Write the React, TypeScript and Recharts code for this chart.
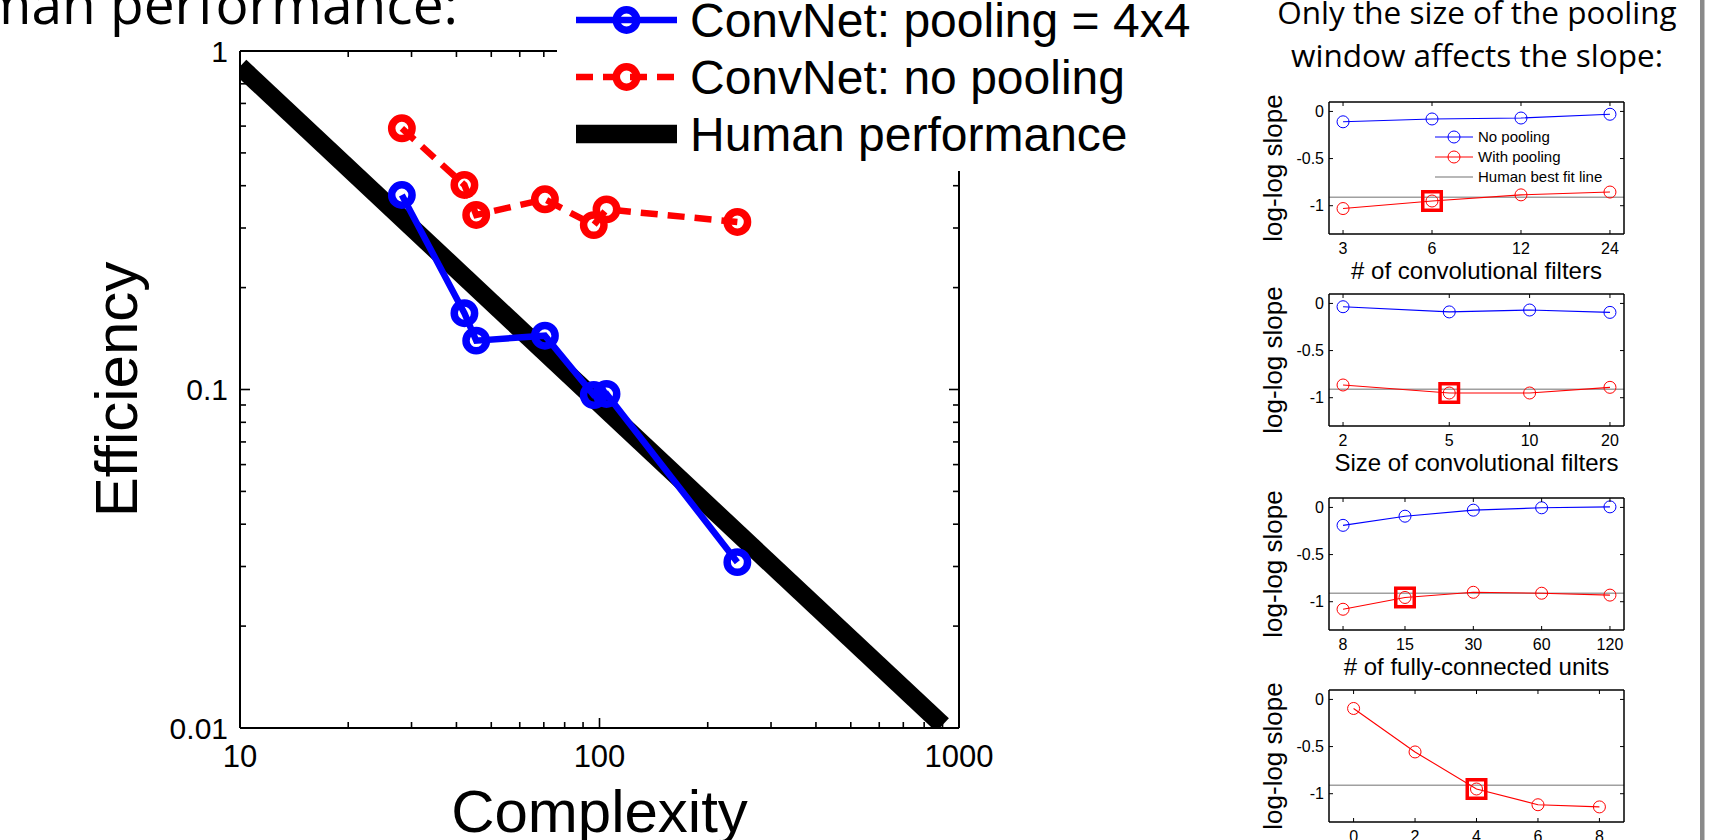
import React from 'react';
import { LineChart, Line, XAxis, YAxis, Legend, ReferenceLine, ReferenceDot } from 'recharts';

// ---------- Main chart data ----------
const complexity = [28.2, 42.1, 45.4, 70.5, 96.4, 104.6, 241.8];
const effPooling = [0.3755, 0.168, 0.1394, 0.1442, 0.0963, 0.097, 0.0309];
const effNoPooling = [0.591, 0.402, 0.3278, 0.3647, 0.306, 0.3405, 0.3126];
const humanComplexity = [10, 900];
const humanEfficiency = [0.9, 0.0102];

const mainXTicks = [10, 20, 30, 40, 50, 60, 70, 80, 90, 100, 200, 300, 400, 500, 600, 700, 800, 900, 1000];
const mainYTicks = [0.01, 0.02, 0.03, 0.04, 0.05, 0.06, 0.07, 0.08, 0.09, 0.1, 0.2, 0.3, 0.4, 0.5, 0.6, 0.7, 0.8, 0.9, 1];
const mainSeriesNames = ['ConvNet: pooling = 4x4', 'ConvNet: no pooling', 'Human performance'];

// ---------- Slope panels data ----------
const filtersCount = [3, 6, 12, 24];
const filtersCountNoPool = [-0.11, -0.08, -0.07, -0.03];
const filtersCountPool = [-1.03, -0.95, -0.885, -0.855];

const filterSize = [2, 5, 10, 20];
const filterSizeNoPool = [-0.035, -0.09, -0.07, -0.095];
const filterSizePool = [-0.865, -0.95, -0.95, -0.89];

const fcUnits = [8, 15, 30, 60, 120];
const fcUnitsNoPool = [-0.19, -0.093, -0.029, -0.004, 0.006];
const fcUnitsPool = [-1.08, -0.955, -0.9, -0.91, -0.93];

const poolSize = [0, 2, 4, 6, 8];
const poolSizePool = [-0.096, -0.557, -0.95, -1.117, -1.14];

const humanSlope = -0.91;
const slopeTicks = [-1, -0.5, 0];
const slopeLegendNames = ['No pooling', 'With pooling', 'Human best fit line'];
const panelXLabels = ['# of convolutional filters', 'Size of convolutional filters', '# of fully-connected units', ''];
const highlightIndex = [1, 1, 1, 2];

const FONT = "'Liberation Sans', Arial, Helvetica, sans-serif";
const SLIDE_FONT = "'Open Sans', 'Noto Sans', sans-serif";
const BLUE = '#0000ff';
const RED = '#ff0000';

const isMajorLog = (v: number) => Math.abs(Math.log10(v) - Math.round(Math.log10(v))) < 1e-6;

// ---------- Main chart ticks ----------
const MainTick = (props: any) => {
  const { x, y, payload, side } = props;
  const v = payload.value as number;
  const major = isMajorLog(v);
  const len = major ? 10 : 6;
  const s = { stroke: '#000', strokeWidth: 1.6 };
  if (side === 'bottom') {
    return (
      <g>
        <line x1={x} x2={x} y1={y} y2={y - len} {...s} />
        {major && (
          <text x={x} y={y + 39} textAnchor="middle" fontSize={31} fontFamily={FONT} fill="#000">
            {String(v)}
          </text>
        )}
      </g>
    );
  }
  if (side === 'top') {
    return <line x1={x} x2={x} y1={y} y2={y + len} {...s} />;
  }
  if (side === 'left') {
    return (
      <g>
        <line x1={x} x2={x + len} y1={y} y2={y} {...s} />
        {major && (
          <text x={x - 12} y={y + 10.5} textAnchor="end" fontSize={30} fontFamily={FONT} fill="#000">
            {String(v)}
          </text>
        )}
      </g>
    );
  }
  return <line x1={x} x2={x - len} y1={y} y2={y} {...s} />;
};

const MainDot = (color: string) => (p: any) => (
  <circle key={`d-${color}-${p.index}`} cx={p.cx} cy={p.cy} r={10.2} fill="none" stroke={color} strokeWidth={7.5} />
);

const MainLegend = () => {
  const styles = [
    { color: BLUE, width: 6.5, dash: undefined as string | undefined, marker: true },
    { color: RED, width: 6.5, dash: '17 10', marker: true },
    { color: '#000', width: 18.5, dash: undefined as string | undefined, marker: false },
  ];
  return (
    <svg width={640} height={171} style={{ display: 'block' }}>
      {mainSeriesNames.map((name, i) => {
        const cy = 20 + i * 57;
        const st = styles[i];
        return (
          <g key={name}>
            <line x1={19} x2={120} y1={cy} y2={cy} stroke={st.color} strokeWidth={st.width} strokeDasharray={st.dash} />
            {st.marker && <circle cx={69.5} cy={cy} r={10.2} fill="none" stroke={st.color} strokeWidth={7.5} />}
            <text x={133} y={cy + 17} fontSize={48} fontFamily={FONT} fill="#000">
              {name}
            </text>
          </g>
        );
      })}
    </svg>
  );
};

function MainChart() {
  const pooledData = complexity.map((c, i) => ({ c, e: effPooling[i] }));
  const noPoolData = complexity.map((c, i) => ({ c, e: effNoPooling[i] }));
  const humanData = humanComplexity.map((c, i) => ({ c, e: humanEfficiency[i] }));
  const axisLine = { stroke: '#000', strokeWidth: 2 };
  return (
    <div style={{ position: 'absolute', left: 0, top: 0, width: 1000, height: 840 }}>
      <LineChart width={1000} height={840} margin={{ top: 0, right: 0, bottom: 0, left: 0 }}>
        <XAxis
          xAxisId="b"
          dataKey="c"
          type="number"
          scale="log"
          domain={[10, 1000]}
          allowDataOverflow
          ticks={mainXTicks}
          interval={0}
          height={112}
          axisLine={axisLine}
          tickLine={false}
          tickSize={0}
          tickMargin={0}
          tick={(p: any) => <MainTick {...p} side="bottom" />}
          label={(p: any) => {
            const vb = p.viewBox;
            return (
              <text x={vb.x + vb.width / 2} y={vb.y + 104} textAnchor="middle" fontSize={60} fontFamily={FONT} fill="#000">
                Complexity
              </text>
            );
          }}
        />
        <XAxis
          xAxisId="t"
          orientation="top"
          dataKey="c"
          type="number"
          scale="log"
          domain={[10, 1000]}
          allowDataOverflow
          ticks={mainXTicks}
          interval={0}
          height={51}
          axisLine={axisLine}
          tickLine={false}
          tickSize={0}
          tickMargin={0}
          tick={(p: any) => <MainTick {...p} side="top" />}
        />
        <YAxis
          yAxisId="l"
          type="number"
          scale="log"
          domain={[0.01, 1]}
          allowDataOverflow
          ticks={mainYTicks}
          interval={0}
          width={240}
          axisLine={axisLine}
          tickLine={false}
          tickSize={0}
          tickMargin={0}
          tick={(p: any) => <MainTick {...p} side="left" />}
          label={(p: any) => {
            const vb = p.viewBox;
            const cx = vb.x + 137;
            const cy = vb.y + vb.height / 2;
            return (
              <text transform={`translate(${cx},${cy}) rotate(-90)`} textAnchor="middle" fontSize={60} fontFamily={FONT} fill="#000">
                Efficiency
              </text>
            );
          }}
        />
        <YAxis
          yAxisId="r"
          orientation="right"
          type="number"
          scale="log"
          domain={[0.01, 1]}
          allowDataOverflow
          ticks={mainYTicks}
          interval={0}
          width={41}
          axisLine={axisLine}
          tickLine={false}
          tickSize={0}
          tickMargin={0}
          tick={(p: any) => <MainTick {...p} side="right" />}
        />
        <Line
          xAxisId="b"
          yAxisId="l"
          data={humanData}
          dataKey="e"
          name={mainSeriesNames[2]}
          stroke="#000"
          strokeWidth={18.5}
          dot={false}
          isAnimationActive={false}
        />
        <Line
          xAxisId="b"
          yAxisId="l"
          data={pooledData}
          dataKey="e"
          name={mainSeriesNames[0]}
          stroke={BLUE}
          strokeWidth={6.5}
          dot={MainDot(BLUE)}
          isAnimationActive={false}
        />
        <Line
          xAxisId="b"
          yAxisId="l"
          data={noPoolData}
          dataKey="e"
          name={mainSeriesNames[1]}
          stroke={RED}
          strokeWidth={6.5}
          strokeDasharray="17 10"
          dot={MainDot(RED)}
          isAnimationActive={false}
        />
        <Legend
          layout="horizontal"
          verticalAlign="middle"
          align="center"
          content={() => <MainLegend />}
          wrapperStyle={{ position: 'absolute', left: 557, top: 0, width: 640, height: 171, background: '#fff' }}
        />
      </LineChart>
    </div>
  );
}

// ---------- Slope panels ----------
const SubTick = (props: any) => {
  const { x, y, payload, side, showLabel } = props;
  const v = payload.value as number;
  const len = 4;
  const s = { stroke: '#000', strokeWidth: 1 };
  if (side === 'bottom') {
    return (
      <g>
        <line x1={x} x2={x} y1={y} y2={y - len} {...s} />
        {showLabel && (
          <text x={x} y={y + 20} textAnchor="middle" fontSize={16} fontFamily={FONT} fill="#000">
            {String(v)}
          </text>
        )}
      </g>
    );
  }
  if (side === 'top') return <line x1={x} x2={x} y1={y} y2={y + len} {...s} />;
  if (side === 'left') {
    return (
      <g>
        <line x1={x} x2={x + len} y1={y} y2={y} {...s} />
        <text x={x - 5} y={y + 5.5} textAnchor="end" fontSize={16} fontFamily={FONT} fill="#000">
          {String(v)}
        </text>
      </g>
    );
  }
  return <line x1={x} x2={x - len} y1={y} y2={y} {...s} />;
};

const SlopeLegend = () => {
  const colors = [BLUE, RED, '#a0a0a0'];
  return (
    <svg width={200} height={60} style={{ display: 'block' }}>
      {slopeLegendNames.map((name, i) => {
        const cy = 10 + i * 20;
        return (
          <g key={name}>
            <line x1={0} x2={38} y1={cy} y2={cy} stroke={colors[i]} strokeWidth={i === 2 ? 1.5 : 1} />
            {i < 2 && <circle cx={19} cy={cy} r={6} fill="none" stroke={colors[i]} strokeWidth={1} />}
            <text x={43} y={cy + 5.3} fontSize={15} fontFamily={FONT} fill="#000">
              {name}
            </text>
          </g>
        );
      })}
    </svg>
  );
};

const SlopeDot = (color: string) => (p: any) => (
  <circle key={`s-${color}-${p.index}`} cx={p.cx} cy={p.cy} r={6} fill="none" stroke={color} strokeWidth={1} />
);

const HighlightSquare = (p: any) => (
  <rect x={p.cx - 9.25} y={p.cy - 9.25} width={18.5} height={18.5} fill="none" stroke={RED} strokeWidth={3.5} />
);

type PanelProps = {
  plotTop: number;
  xs: number[];
  pool: number[];
  noPool?: number[];
  xLabel: string;
  scale: 'log' | 'linear';
  domain: [number, number];
  highlight: number;
  showLegend?: boolean;
};

function SlopePanel({ plotTop, xs, pool, noPool, xLabel, scale, domain, highlight, showLegend }: PanelProps) {
  const data = xs.map((x, i) => ({ x, pool: pool[i], noPool: noPool ? noPool[i] : null }));
  const chartTop = plotTop - 30;
  const axisLine = { stroke: '#000', strokeWidth: 1.5 };
  return (
    <div style={{ position: 'absolute', left: 1200, top: chartTop, width: 500, height: 230 }}>
      <LineChart width={500} height={230} data={data} margin={{ top: 0, right: 0, bottom: 0, left: 0 }}>
        <XAxis
          xAxisId="b"
          dataKey="x"
          type="number"
          scale={scale}
          domain={domain}
          allowDataOverflow
          ticks={xs}
          interval={0}
          height={68}
          axisLine={axisLine}
          tickLine={false}
          tickSize={0}
          tickMargin={0}
          tick={(p: any) => <SubTick {...p} side="bottom" showLabel />}
          label={(p: any) => {
            const vb = p.viewBox;
            return (
              <text x={vb.x + vb.width / 2} y={vb.y + 45} textAnchor="middle" fontSize={24} fontFamily={FONT} fill="#000">
                {xLabel}
              </text>
            );
          }}
        />
        <XAxis
          xAxisId="t"
          orientation="top"
          dataKey="x"
          type="number"
          scale={scale}
          domain={domain}
          allowDataOverflow
          ticks={xs}
          interval={0}
          height={30}
          axisLine={axisLine}
          tickLine={false}
          tickSize={0}
          tickMargin={0}
          tick={(p: any) => <SubTick {...p} side="top" />}
        />
        <YAxis
          yAxisId="l"
          type="number"
          domain={[-1.3, 0.1]}
          allowDataOverflow
          ticks={slopeTicks}
          interval={0}
          width={129}
          axisLine={axisLine}
          tickLine={false}
          tickSize={0}
          tickMargin={0}
          tick={(p: any) => <SubTick {...p} side="left" />}
          label={(p: any) => {
            const vb = p.viewBox;
            const cx = vb.x + 82;
            const cy = vb.y + vb.height / 2;
            return (
              <text transform={`translate(${cx},${cy}) rotate(-90)`} textAnchor="middle" fontSize={26} fontFamily={FONT} fill="#000">
                log-log slope
              </text>
            );
          }}
        />
        <YAxis
          yAxisId="r"
          orientation="right"
          type="number"
          domain={[-1.3, 0.1]}
          allowDataOverflow
          ticks={slopeTicks}
          interval={0}
          width={76}
          axisLine={axisLine}
          tickLine={false}
          tickSize={0}
          tickMargin={0}
          tick={(p: any) => <SubTick {...p} side="right" />}
        />
        <ReferenceLine xAxisId="b" yAxisId="l" y={humanSlope} stroke="#a0a0a0" strokeWidth={1.5} />
        {noPool && (
          <Line
            xAxisId="b"
            yAxisId="l"
            dataKey="noPool"
            name={slopeLegendNames[0]}
            stroke={BLUE}
            strokeWidth={1.1}
            dot={SlopeDot(BLUE)}
            isAnimationActive={false}
          />
        )}
        <Line
          xAxisId="b"
          yAxisId="l"
          dataKey="pool"
          name={slopeLegendNames[1]}
          stroke={RED}
          strokeWidth={1.1}
          dot={SlopeDot(RED)}
          isAnimationActive={false}
        />
        <ReferenceDot xAxisId="b" yAxisId="l" x={xs[highlight]} y={pool[highlight]} shape={HighlightSquare} />
        {showLegend && (
          <Legend
            layout="horizontal"
            verticalAlign="middle"
            align="center"
            content={() => <SlopeLegend />}
            wrapperStyle={{ position: 'absolute', left: 235, top: 55, width: 200, height: 60 }}
          />
        )}
      </LineChart>
    </div>
  );
}

const logPad = (min: number, max: number, frac: number): [number, number] => {
  const r = Math.log10(max / min) * frac;
  return [min / Math.pow(10, r), max * Math.pow(10, r)];
};

export default function App() {
  return (
    <div style={{ position: 'absolute', left: 0, top: 0, width: 1713, height: 840, overflow: 'hidden', background: '#fff' }}>
      <svg width={1713} height={840} style={{ position: 'absolute', left: 0, top: 0 }}>
        <text x={458} y={24} textAnchor="end" fontSize={55} fontFamily={SLIDE_FONT} fill="#000">
          human performance:
        </text>
        <text x={1477} y={23.5} textAnchor="middle" fontSize={31.5} fontFamily={SLIDE_FONT} fill="#000">
          Only the size of the pooling
        </text>
        <text x={1477} y={67} textAnchor="middle" fontSize={31.5} fontFamily={SLIDE_FONT} fill="#000">
          window affects the slope:
        </text>
        <rect x={1700} y={0} width={4.5} height={840} fill="#8a8a8a" />
      </svg>
      <MainChart />
      <SlopePanel
        plotTop={102}
        xs={filtersCount}
        pool={filtersCountPool}
        noPool={filtersCountNoPool}
        xLabel={panelXLabels[0]}
        scale="log"
        domain={logPad(3, 24, 0.0526)}
        highlight={highlightIndex[0]}
        showLegend
      />
      <SlopePanel
        plotTop={294}
        xs={filterSize}
        pool={filterSizePool}
        noPool={filterSizeNoPool}
        xLabel={panelXLabels[1]}
        scale="log"
        domain={logPad(2, 20, 0.0526)}
        highlight={highlightIndex[1]}
      />
      <SlopePanel
        plotTop={498}
        xs={fcUnits}
        pool={fcUnitsPool}
        noPool={fcUnitsNoPool}
        xLabel={panelXLabels[2]}
        scale="log"
        domain={logPad(8, 120, 0.0526)}
        highlight={highlightIndex[2]}
      />
      <SlopePanel
        plotTop={690}
        xs={poolSize}
        pool={poolSizePool}
        xLabel={panelXLabels[3]}
        scale="linear"
        domain={[-0.8, 8.8]}
        highlight={highlightIndex[3]}
      />
    </div>
  );
}
